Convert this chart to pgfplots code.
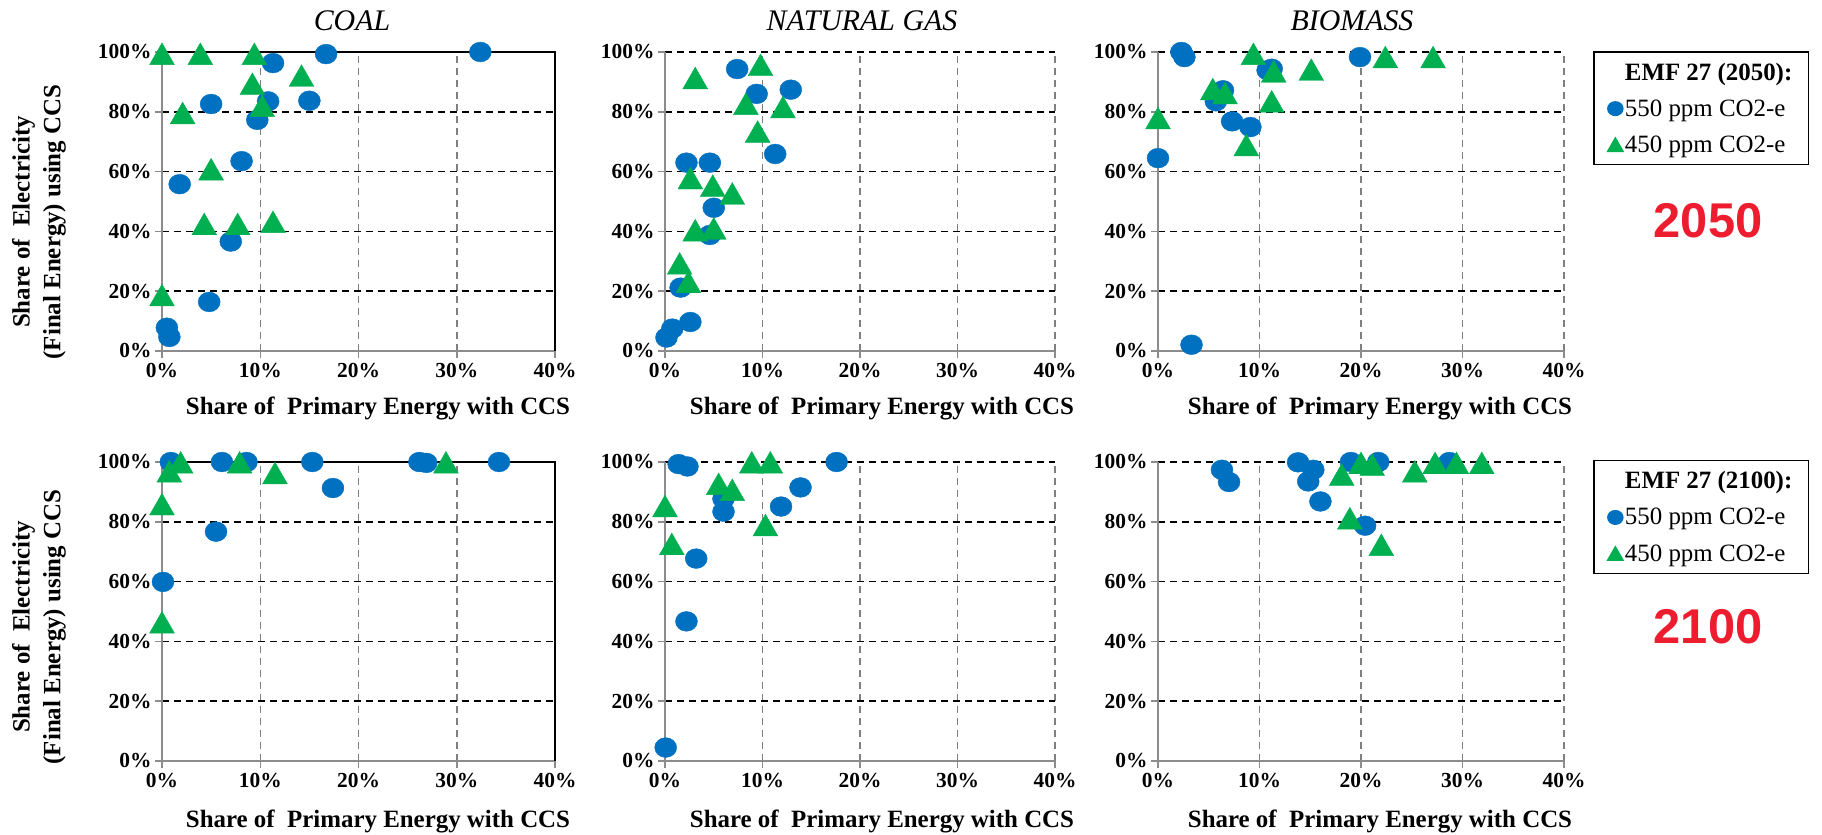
\documentclass[border=0pt]{standalone}
\usepackage{fontspec}
\setmainfont{Liberation Serif}
\setsansfont{Liberation Sans}
\usepackage{pgfplots}
\pgfplotsset{compat=1.18}
\definecolor{cblue}{HTML}{0070C0}
\definecolor{cgreen}{HTML}{00B050}
\definecolor{cred}{HTML}{ED1C2E}
\definecolor{axgray}{HTML}{8C8C8C}
\definecolor{gridgray}{HTML}{7F7F7F}
\pgfdeclareplotmark{ell}{%
  \pgfpathellipse{\pgfpointorigin}{\pgfqpoint{\pgfplotmarksize}{0pt}}{\pgfqpoint{0pt}{0.9\pgfplotmarksize}}%
  \pgfusepathqfillstroke}
\pgfdeclareplotmark{etri}{%
  \pgfpathmoveto{\pgfqpoint{0pt}{0.7\pgfplotmarksize}}%
  \pgfpathlineto{\pgfqpoint{-0.8\pgfplotmarksize}{-0.7\pgfplotmarksize}}%
  \pgfpathlineto{\pgfqpoint{0.8\pgfplotmarksize}{-0.7\pgfplotmarksize}}%
  \pgfpathclose\pgfusepathqfillstroke}
\pgfplotsset{
  panel/.style={
    scale only axis, height=299bp, anchor=north west,
    xmin=0, xmax=40, ymin=0, ymax=100,
    xtick={0,10,20,30,40}, ytick={0,20,40,60,80,100},
    axis x line*=bottom, axis y line*=left,
    axis line style={-, draw=axgray, line width=2bp},
    xmajorgrids, ymajorgrids,
    x grid style={draw=gridgray, line width=1.5bp, dash pattern=on 7bp off 5bp},
    y grid style={draw=black, line width=1.5bp, dash pattern=on 7bp off 5bp},
    tick align=outside, major tick length=7bp,
    tick style={draw=axgray, line width=1.5bp},
    xticklabel={\pgfmathprintnumber{\tick}\%},
    yticklabel={\pgfmathprintnumber{\tick}\%},
    /pgf/number format/assume math mode=true,
    ticklabel style={font=\rmfamily\fontsize{21.5}{24}\selectfont\bfseries},
    xticklabel style={yshift=-2bp},
    clip=false,
  },
  s550/.style={only marks, mark=ell, mark size=11bp, color=cblue, forget plot},
  s450/.style={only marks, mark=etri, mark size=15.5bp, color=cgreen, forget plot},
  dotlegend/.style={legend image code/.code={\draw[##1] plot coordinates {(0bp,0bp)};}},
  yrlegend/.style={legend style={at={(#1)}, anchor=north west, draw=black, line width=1.5bp,
     font=\rmfamily\fontsize{25}{29}\selectfont, legend cell align=left, row sep=14bp,
     inner xsep=14bp, inner ysep=9bp,
     /tikz/every even column/.append style={column sep=5bp}}},
}
\begin{document}
\begin{tikzpicture}
\useasboundingbox (0,0) rectangle (1822bp,-835bp);
% ---------------- Row 1 (2050)
\begin{axis}[panel, at={(162bp,-52bp)}, width=393bp]
\draw[black, line width=2bp] (rel axis cs:0,1) -- (rel axis cs:1,1) -- (rel axis cs:1,0);
\addplot[s550] coordinates {(32.4,100) (16.7,99.3) (11.3,96.3) (15.0,83.7) (10.8,83.5) (5.0,82.6) (9.7,77.3) (8.1,63.5) (1.8,55.8) (7.0,36.6) (4.8,16.4) (0.5,7.8) (0.75,4.7)};
\addplot[s450] coordinates {(0,99.4) (3.9,99.4) (9.4,99.4) (9.2,89.4) (14.2,92.1) (10.2,82.0) (2.1,79.6) (5.0,60.8) (4.3,42.5) (7.7,42.5) (11.3,43.2) (0,18.7)};
\end{axis}
\begin{axis}[panel, at={(665bp,-52bp)}, width=390bp]
\addplot[s550] coordinates {(7.4,94.3) (9.4,86.0) (12.9,87.4) (11.3,65.9) (2.2,63.0) (4.6,63.0) (5.0,47.9) (4.6,38.8) (1.6,21.2) (2.6,9.7) (0.75,7.5) (0.15,4.5)};
\addplot[s450] coordinates {(9.8,95.7) (3.1,91.3) (8.3,82.7) (12.1,81.6) (9.5,73.4) (2.6,57.8) (4.9,55.3) (6.9,52.7) (3.1,40.4) (5.0,41.0) (1.5,29.3) (2.4,23.1)};
\end{axis}
\begin{axis}[panel, at={(1158bp,-52bp)}, width=406bp, yrlegend={1.0714,1.003}]
\addlegendimage{empty legend}
\addlegendentry{\textbf{EMF 27 (2050):}}
\addlegendimage{only marks, mark=ell, mark size=7.5bp, color=cblue, dotlegend}
\addlegendentry{550 ppm CO2-e}
\addlegendimage{only marks, mark=etri, mark size=9.5bp, color=cgreen, dotlegend}
\addlegendentry{450 ppm CO2-e}
\addplot[s550] coordinates {(2.3,100) (2.6,98.3) (19.9,98.3) (11.2,94.4) (10.8,93.9) (6.4,87.2) (5.7,83.5) (7.3,76.8) (9.1,74.9) (0,64.5) (3.3,2.1)};
\addplot[s450] coordinates {(9.4,99.4) (22.4,98.3) (27.1,98.3) (15.1,94.1) (11.4,93.5) (5.4,87.6) (6.6,86.3) (11.2,83.5) (0,77.9) (8.7,68.9)};
\end{axis}
% ---------------- Row 2 (2100)
\begin{axis}[panel, at={(162bp,-462bp)}, width=393bp]
\draw[black, line width=2bp] (rel axis cs:0,1) -- (rel axis cs:1,1) -- (rel axis cs:1,0);
\addplot[s550] coordinates {(0.9,100) (6.1,100) (8.6,100) (15.3,100) (26.2,100) (26.9,99.7) (34.3,100) (17.4,91.3) (5.5,76.7) (0.1,59.9)};
\addplot[s450] coordinates {(1.9,99.9) (7.9,99.9) (28.9,99.9) (0.75,96.9) (11.5,96.3) (0,85.9) (0,46.4)};
\end{axis}
\begin{axis}[panel, at={(665bp,-462bp)}, width=390bp]
\addplot[s550] coordinates {(1.4,99.3) (2.3,98.5) (17.6,100) (13.9,91.5) (11.9,85.1) (6.0,87.7) (6.0,83.4) (3.2,67.7) (2.2,46.7) (0.07,4.5)};
\addplot[s450] coordinates {(8.9,99.9) (10.8,99.9) (5.5,92.7) (6.9,90.7) (0,85.3) (10.3,78.9) (0.7,72.6)};
\end{axis}
\begin{axis}[panel, at={(1158bp,-462bp)}, width=406bp, yrlegend={1.0714,1.007}]
\addlegendimage{empty legend}
\addlegendentry{\textbf{EMF 27 (2100):}}
\addlegendimage{only marks, mark=ell, mark size=7.5bp, color=cblue, dotlegend}
\addlegendentry{550 ppm CO2-e}
\addlegendimage{only marks, mark=etri, mark size=9.5bp, color=cgreen, dotlegend}
\addlegendentry{450 ppm CO2-e}
\addplot[s550] coordinates {(6.3,97.4) (7.0,93.3) (13.8,99.9) (15.3,97.4) (14.8,93.5) (16.0,86.8) (19.0,100) (21.7,100) (20.4,78.7) (28.7,100)};
\addplot[s450] coordinates {(18.1,95.8) (20.0,99.7) (21.1,99.1) (25.3,96.9) (27.3,99.7) (29.4,99.7) (31.9,99.7) (18.9,81.2) (22.0,72.3)};
\end{axis}
% ---------------- Titles and labels
\begin{scope}[every node/.style={font=\rmfamily\fontsize{30}{34}\selectfont\itshape}]
\node at (352bp,-21bp) {COAL};
\node at (862bp,-21bp) {NATURAL GAS};
\node at (1352bp,-21bp) {BIOMASS};
\end{scope}
\begin{scope}[every node/.style={font=\rmfamily\fontsize{25}{31}\selectfont\bfseries}]
\node at (378bp,-408bp) {Share of\ \ Primary Energy with CCS};
\node at (882bp,-408bp) {Share of\ \ Primary Energy with CCS};
\node at (1380bp,-408bp) {Share of\ \ Primary Energy with CCS};
\node at (378bp,-821bp) {Share of\ \ Primary Energy with CCS};
\node at (882bp,-821bp) {Share of\ \ Primary Energy with CCS};
\node at (1380bp,-821bp) {Share of\ \ Primary Energy with CCS};
\node[rotate=90, align=center] at (39bp,-222bp) {Share of\ \ Electricity\\(Final Energy) using CCS};
\node[rotate=90, align=center] at (39bp,-627bp) {Share of\ \ Electricity\\(Final Energy) using CCS};
\end{scope}
\node[font=\sffamily\fontsize{49}{52}\selectfont\bfseries, text=cred] at (1708bp,-221bp) {2050};
\node[font=\sffamily\fontsize{49}{52}\selectfont\bfseries, text=cred] at (1708bp,-627bp) {2100};
\end{tikzpicture}
\end{document}
